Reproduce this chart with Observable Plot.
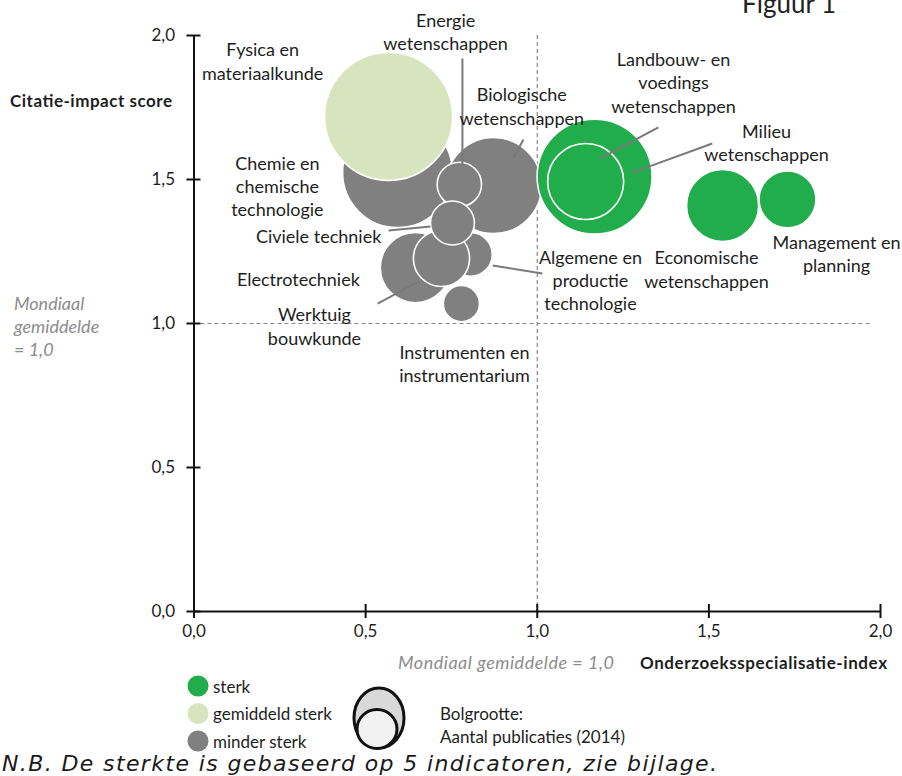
<!DOCTYPE html>
<html>
<head>
<meta charset="utf-8">
<script src="https://cdn.jsdelivr.net/npm/d3@7"></script>
<script src="https://cdn.jsdelivr.net/npm/@observablehq/plot@0.6"></script>
<style>
  html, body { margin: 0; padding: 0; background: #fff; }
  #wrap { position: relative; width: 902px; height: 776px; overflow: hidden; font-family: Lato, sans-serif; }
  #wrap > svg { position: absolute; left: 0; top: 0; }
</style>
</head>
<body>
<div id="wrap"></div>
<script>
// Research fields, in drawing order (later fields sit on top)
const fields = [
  "Chemie en chemische technologie",
  "Fysica en materiaalkunde",
  "Biologische wetenschappen",
  "Milieuwetenschappen",
  "Electrotechniek",
  "Economische wetenschappen",
  "Management en planning",
  "Landbouw- en voedingswetenschappen",
  "Algemene en productietechnologie",
  "Werktuigbouwkunde",
  "Energiewetenschappen",
  "Civiele techniek",
  "Instrumenten en instrumentarium"
];
// Onderzoeksspecialisatie-index
const specIndex = [0.593, 0.567, 0.873, 1.167, 0.645, 1.540, 1.729, 1.141, 0.805, 0.721, 0.773, 0.753, 0.779];
// Citatie-impact score
const impact = [1.524, 1.719, 1.479, 1.510, 1.194, 1.410, 1.431, 1.493, 1.240, 1.226, 1.483, 1.349, 1.069];
// Aantal publicaties (2014)
const publications = [2950, 4000, 2250, 3230, 1200, 1270, 790, 1410, 470, 770, 480, 470, 320];
// Sterkte
const strength = [
  "minder sterk", "gemiddeld sterk", "minder sterk", "sterk", "minder sterk", "sterk", "sterk",
  "sterk", "minder sterk", "minder sterk", "minder sterk", "minder sterk", "minder sterk"
];
const strengthLevels = ["sterk", "gemiddeld sterk", "minder sterk"];
const strengthColors = ["#21ad4b", "#d7e4bd", "#808080"];
const axisTicks = [0, 0.5, 1, 1.5, 2];
const worldAverage = 1;

// Label placement (data units) and leader lines to the bubbles
const labels = [
  {text: "Fysica en\nmateriaalkunde", x: 0.200, y: 1.913},
  {text: "Energie\nwetenschappen", x: 0.733, y: 2.016},
  {text: "Biologische\nwetenschappen", x: 0.955, y: 1.757},
  {text: "Chemie en\nchemische\ntechnologie", x: 0.243, y: 1.479},
  {text: "Civiele techniek", x: 0.363, y: 1.306},
  {text: "Electrotechniek", x: 0.304, y: 1.156},
  {text: "Werktuig\nbouwkunde", x: 0.351, y: 0.993},
  {text: "Instrumenten en\ninstrumentarium", x: 0.788, y: 0.863},
  {text: "Algemene en\nproductie\ntechnologie", x: 1.155, y: 1.153},
  {text: "Economische\nwetenschappen", x: 1.493, y: 1.191},
  {text: "Management en\nplanning", x: 1.872, y: 1.245},
  {text: "Landbouw- en\nvoedings\nwetenschappen", x: 1.397, y: 1.839},
  {text: "Milieu\nwetenschappen", x: 1.668, y: 1.630}
];
const leaders = [
  {x1: 0.782, y1: 1.920, x2: 0.782, y2: 1.549},
  {x1: 0.960, y1: 1.639, x2: 0.931, y2: 1.576},
  {x1: 0.567, y1: 1.323, x2: 0.689, y2: 1.337},
  {x1: 0.535, y1: 1.069, x2: 0.659, y2: 1.149},
  {x1: 0.870, y1: 1.201, x2: 1.015, y2: 1.174},
  {x1: 1.184, y1: 1.573, x2: 1.353, y2: 1.681},
  {x1: 1.277, y1: 1.524, x2: 1.510, y2: 1.625}
];

const bubbles = fields.map((field, i) => ({
  field, x: specIndex[i], y: impact[i], pubs: publications[i], strength: strength[i]
}));

const nl = d3.formatLocale({decimal: ",", thousands: ".", grouping: [3], currency: ["€", ""]});
const fmt = nl.format(".1f");

const chart = Plot.plot({
  width: 902,
  height: 776,
  marginLeft: 193.5,
  marginRight: 22,
  marginTop: 35,
  marginBottom: 165,
  x: {domain: [0, 2], axis: null, label: null},
  y: {domain: [0, 2], axis: null, label: null},
  r: {type: "sqrt", domain: [0, 4000], range: [0, 64]},
  color: {domain: strengthLevels, range: strengthColors},
  style: {fontFamily: "Lato, sans-serif", fontSize: "17px", color: "#1a1a1a", background: "transparent"},
  marks: [
    Plot.ruleY([worldAverage], {x1: 0, x2: 1.97, stroke: "#8a8a8a", strokeWidth: 1.2, strokeDasharray: "4,3"}),
    Plot.ruleX([worldAverage], {stroke: "#8a8a8a", strokeWidth: 1.2, strokeDasharray: "4,3"}),
    Plot.dot(bubbles, {x: "x", y: "y", r: "pubs", fill: "strength", stroke: "white", strokeWidth: 1.6, sort: null}),
    Plot.link(leaders, {x1: "x1", y1: "y1", x2: "x2", y2: "y2", stroke: "#7a7a7a", strokeWidth: 2}),
    Plot.text(labels, {x: "x", y: "y", text: "text", fontSize: 18, lineHeight: 1.3, fill: "#1e1e1e", textAnchor: "middle", lineAnchor: "middle"}),
    Plot.ruleX([0], {stroke: "#111", strokeWidth: 2}),
    Plot.ruleY([0], {stroke: "#111", strokeWidth: 2}),
    Plot.axisY(axisTicks, {tickSize: 14, dx: 7, fill: "none", stroke: "#111", strokeWidth: 2, label: null}),
    Plot.axisY(axisTicks, {tickSize: 0, tickPadding: 19, tickFormat: fmt, fill: "#1e1e1e", fontSize: 17, label: null}),
    Plot.axisX(axisTicks, {tickSize: 14, dy: -7, fill: "none", stroke: "#111", strokeWidth: 2, label: null}),
    Plot.axisX(axisTicks, {tickSize: 0, tickPadding: 13, tickFormat: fmt, fill: "#1e1e1e", fontSize: 17, label: null})
  ]
});

const wrap = document.getElementById("wrap");
wrap.appendChild(chart);

// Titles, notes and legend
const svg = d3.select(wrap).append("svg")
  .attr("width", 902).attr("height", 776)
  .style("font-family", "Lato, sans-serif");

const txt = (s, x, y, opts = {}) => {
  const t = svg.append("text")
    .attr("x", x).attr("y", y)
    .attr("dominant-baseline", opts.baseline || "central")
    .attr("text-anchor", opts.anchor || "start")
    .attr("font-size", opts.size || 17)
    .attr("font-weight", opts.weight || 400)
    .attr("font-style", opts.italic ? "italic" : "normal")
    .attr("fill", opts.fill || "#1e1e1e")
    .text(s);
  if (opts.family) t.attr("font-family", opts.family);
  if (opts.length) t.attr("textLength", opts.length).attr("lengthAdjust", "spacing");
  return t;
};

txt("Figuur 1", 742, 13, {size: 26, baseline: "alphabetic", fill: "#222"});
txt("Citatie-impact score", 10, 100, {weight: 700, length: 162});
txt("Onderzoeksspecialisatie-index", 887, 662, {weight: 700, anchor: "end", length: 247});
txt("Mondiaal gemiddelde = 1,0", 614, 662, {italic: true, anchor: "end", size: 18, fill: "#8c8c8c", length: 216});
["Mondiaal", "gemiddelde", "= 1,0"].forEach((s, i) =>
  txt(s, 14, 303 + i * 23, {italic: true, size: 18, fill: "#8c8c8c"}));

// colour legend
strengthLevels.forEach((lvl, i) => {
  const cy = 686 + i * 27.5;
  svg.append("circle").attr("cx", 198).attr("cy", cy).attr("r", 10.5).attr("fill", strengthColors[i]);
  txt(lvl, 213, cy, {size: 17});
});

// bubble size legend
svg.append("ellipse").attr("cx", 379).attr("cy", 718).attr("rx", 25).attr("ry", 30)
  .attr("fill", "#d9d9d9").attr("stroke", "#111").attr("stroke-width", 3);
svg.append("ellipse").attr("cx", 377).attr("cy", 729).attr("rx", 20).attr("ry", 19.5)
  .attr("fill", "#f2f2f2").attr("stroke", "#111").attr("stroke-width", 3);
txt("Bolgrootte:", 440, 713, {size: 17});
txt("Aantal publicaties (2014)", 440, 736, {size: 17});

txt("N.B. De sterkte is gebaseerd op 5 indicatoren, zie bijlage.", 2, 763,
  {italic: true, size: 22, length: 715, fill: "#1a1a1a", family: "'DejaVu Sans', sans-serif"});
</script>
</body>
</html>
